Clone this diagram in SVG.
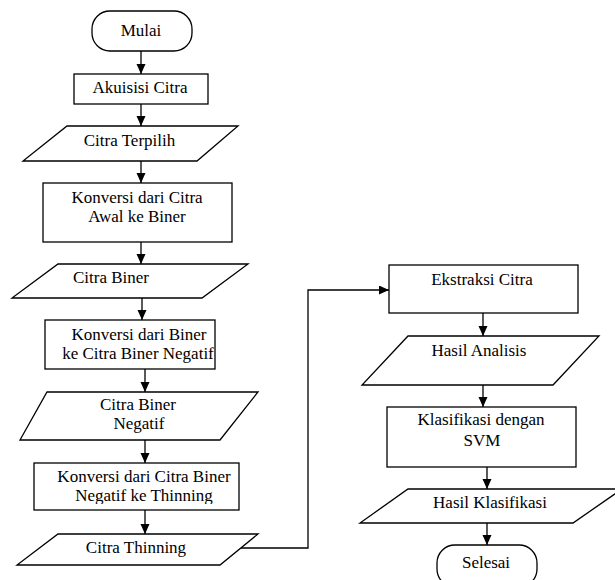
<svg xmlns="http://www.w3.org/2000/svg" width="615" height="580" viewBox="0 0 615 580">
<style>
.s{fill:#fff;stroke:#000;stroke-width:1.3}
.t{font-size:17px;fill:#000;text-anchor:middle}
.c{fill:none;stroke:#000;stroke-width:1.3}
</style>
<defs>
<marker id="ah" markerUnits="userSpaceOnUse" markerWidth="10" markerHeight="10" refX="10" refY="4.5" orient="auto">
<path d="M0,0 L10,4.5 L0,9 z" fill="#000"/>
</marker>
<clipPath id="clipK3"><rect x="0" y="460" width="615" height="44"/></clipPath>
</defs>
<rect width="615" height="580" fill="#fff"/>
<g id="connectors">
<line class="c" x1="141" y1="51" x2="141" y2="74" marker-end="url(#ah)"/>
<line class="c" x1="141" y1="104" x2="141" y2="126" marker-end="url(#ah)"/>
<line class="c" x1="141" y1="161" x2="141" y2="183" marker-end="url(#ah)"/>
<line class="c" x1="141" y1="242" x2="141" y2="264" marker-end="url(#ah)"/>
<line class="c" x1="142" y1="298" x2="142" y2="320" marker-end="url(#ah)"/>
<line class="c" x1="145" y1="369" x2="145" y2="392" marker-end="url(#ah)"/>
<line class="c" x1="145" y1="440" x2="145" y2="463" marker-end="url(#ah)"/>
<line class="c" x1="145" y1="510" x2="145" y2="534" marker-end="url(#ah)"/>
<polyline class="c" points="241,548 308,548 308,290 389,290" marker-end="url(#ah)"/>
<line class="c" x1="483" y1="313" x2="483" y2="336" marker-end="url(#ah)"/>
<line class="c" x1="483" y1="385" x2="483" y2="407" marker-end="url(#ah)"/>
<line class="c" x1="487" y1="467" x2="487" y2="489" marker-end="url(#ah)"/>
<line class="c" x1="487" y1="523" x2="487" y2="545" marker-end="url(#ah)"/>
</g>
<g font-family="'Liberation Serif', 'Times New Roman', Times, serif">
<g id="mulai">
<rect class="s" x="92" y="11" width="100" height="40" rx="18" ry="18"/>
<text class="t" x="141" y="36">Mulai</text>
</g>
<g id="akuisisi">
<rect class="s" x="74" y="74" width="134" height="30"/>
<text class="t" x="140" y="93">Akuisisi Citra</text>
</g>
<g id="citra-terpilih">
<polygon class="s" points="67,126 238,126 197,161 23,161"/>
<text class="t" x="129.5" y="146">Citra Terpilih</text>
</g>
<g id="konversi1">
<rect class="s" x="43" y="183" width="189" height="59"/>
<text class="t" x="137" y="203">Konversi dari Citra</text>
<text class="t" x="137" y="222">Awal ke Biner</text>
</g>
<g id="citra-biner">
<polygon class="s" points="58,264 248,264 202,298 12,298"/>
<text class="t" x="111" y="283">Citra Biner</text>
</g>
<g id="konversi2">
<rect class="s" x="45" y="320" width="170" height="49"/>
<text class="t" x="139" y="340">Konversi dari Biner</text>
<text class="t" x="138" y="358.5">ke Citra Biner Negatif</text>
</g>
<g id="citra-biner-negatif">
<polygon class="s" points="47,392 258,392 220,440 20,440"/>
<text class="t" x="138" y="410">Citra Biner</text>
<text class="t" x="139" y="428.5">Negatif</text>
</g>
<g id="konversi3">
<rect class="s" x="34" y="463" width="205" height="47"/>
<g clip-path="url(#clipK3)">
<text class="t" x="144" y="482">Konversi dari Citra Biner</text>
<text class="t" x="144" y="500.5">Negatif ke Thinning</text>
</g>
</g>
<g id="citra-thinning">
<polygon class="s" points="58,534 258,534 220,565 17,565"/>
<text class="t" x="136" y="553">Citra Thinning</text>
</g>
<g id="ekstraksi">
<rect class="s" x="389" y="265" width="189" height="48"/>
<text class="t" x="482" y="285">Ekstraksi Citra</text>
</g>
<g id="hasil-analisis">
<polygon class="s" points="408,336 599,336 553,385 362,385"/>
<text class="t" x="479" y="356">Hasil Analisis</text>
</g>
<g id="klasifikasi">
<rect class="s" x="387" y="407" width="189" height="60"/>
<text class="t" x="481" y="425">Klasifikasi dengan</text>
<text class="t" x="482" y="446">SVM</text>
</g>
<g id="hasil-klasifikasi">
<polygon class="s" points="408,489 622,489 573,523 360,523"/>
<text class="t" x="490" y="508">Hasil Klasifikasi</text>
</g>
<g id="selesai">
<rect class="s" x="437" y="545" width="100" height="42" rx="18" ry="18"/>
<text class="t" x="486" y="568">Selesai</text>
</g>
</g>
</svg>
